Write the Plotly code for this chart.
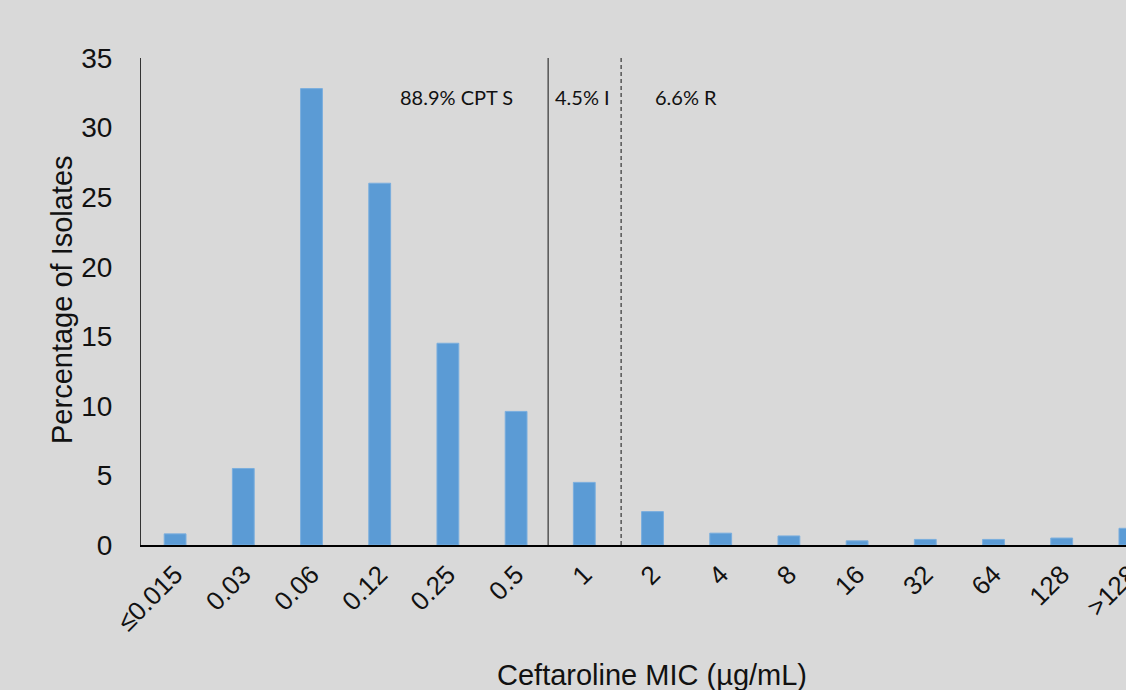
import plotly.graph_objects as go

categories = ["≤0.015", "0.03", "0.06", "0.12", "0.25", "0.5", "1", "2", "4", "8", "16", "32", "64", "128", ">128"]
percent = [0.8, 5.5, 32.8, 26.0, 14.5, 9.6, 4.5, 2.4, 0.85, 0.65, 0.3, 0.4, 0.4, 0.5, 1.2]

y_ticks = [0, 5, 10, 15, 20, 25, 30, 35]
break_S = 5.47   # between 0.5 and 1
break_R = 6.54   # between 1 and 2
labels = [("88.9% CPT S", 4.13), ("4.5% I", 5.98), ("6.6% R", 7.49)]
label_y = 32.2

BG = "#d9d9d9"
W, H = 1164, 690
L, T, B = 141, 58, 145
PW, PH = W - L, H - T - B

fig = go.Figure()
fig.add_trace(go.Bar(
    x=list(range(len(categories))), y=percent,
    marker=dict(color="#5b9bd5", line=dict(color="#7aaede", width=1)),
    width=0.32,
))

fig.add_shape(type="line", xref="x", yref="y", x0=break_S, x1=break_S, y0=0, y1=35,
              line=dict(color="#404040", width=1.3))
fig.add_shape(type="line", xref="x", yref="y", x0=break_R, x1=break_R, y0=0, y1=35,
              line=dict(color="#404040", width=1.3, dash="4px,3px"))

for txt, xpos in labels:
    fig.add_annotation(x=xpos, y=label_y, xref="x", yref="y", text=txt, showarrow=False,
                       font=dict(family="Lato, Open Sans, sans-serif", size=20, color="#111111"))

fig.add_annotation(xref="paper", yref="paper", x=(652 - L) / PW, y=-(675 - 545) / PH,
                   text="Ceftaroline MIC (µg/mL)", showarrow=False,
                   xanchor="center", yanchor="middle",
                   font=dict(family="Liberation Sans, Arial, sans-serif", size=29, color="#111111"))
fig.add_annotation(xref="paper", yref="paper", x=-(L - 62) / PW, y=(545 - 300) / PH,
                   text="Percentage of Isolates", textangle=-90, showarrow=False,
                   xanchor="center", yanchor="middle",
                   font=dict(family="Liberation Sans, Arial, sans-serif", size=29, color="#111111"))

fig.update_layout(
    width=W, height=H,
    margin=dict(l=L, r=0, t=T, b=B, pad=0),
    paper_bgcolor=BG, plot_bgcolor=BG,
    showlegend=False,
    font=dict(family="Liberation Sans, Arial, sans-serif", size=28, color="#111111"),
    xaxis=dict(
        tickmode="array", tickvals=list(range(len(categories))), ticktext=categories,
        tickangle=-45, range=[-0.5, 14.5], showgrid=False, zeroline=False,
        showline=True, linecolor="#000000", linewidth=2, ticks="", ticklabelstandoff=2,
        tickfont=dict(size=26),
    ),
    yaxis=dict(
        tickvals=y_ticks, range=[0, 35], showgrid=False, zeroline=False,
        showline=True, linecolor="#333333", linewidth=1, ticks="", ticklabelstandoff=22,
    ),
)

fig.write_html(
    "out.html",
    config={"displayModeBar": False},
    post_script="document.body.style.margin='0';document.body.style.overflow='hidden';"
                "document.documentElement.style.overflow='hidden';"
                "document.body.style.background='" + BG + "';",
)
